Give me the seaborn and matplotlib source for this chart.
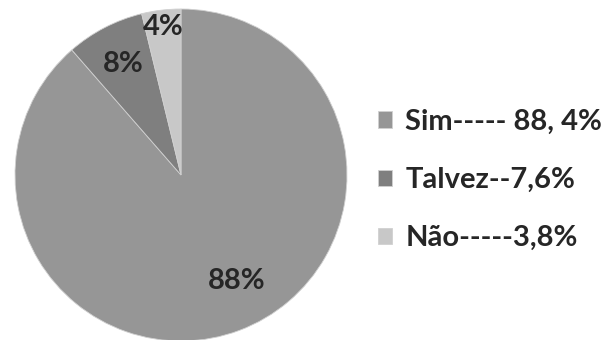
import matplotlib

matplotlib.use("Agg")
import matplotlib.pyplot as plt
import numpy as np
import seaborn as sns

# data
categories = ["Sim", "Talvez", "Não"]
shares = [88.4, 7.6, 3.8]
legend_labels = ["Sim----- 88, 4%", "Talvez--7,6%", "Não-----3,8%"]

GRAYS = ["#969696", "#7f7f7f", "#c8c8c8"]
TEXT = "#262626"

sns.set_theme(style="white")
plt.rcParams["font.family"] = ["Lato", "DejaVu Sans"]

W, H = 609, 340
fig = plt.figure(figsize=(W / 100, H / 100), dpi=100)
fig.patch.set_facecolor("white")

total = sum(shares)

# pie centred at (181, 175) px, radius 166 px
cx, cy, r = 181, 175, 166
ax = fig.add_axes([(cx - r) / W, (H - cy - r) / H, 2 * r / W, 2 * r / H])
wedges, texts, autotexts = ax.pie(
    shares,
    colors=GRAYS,
    startangle=90,
    counterclock=False,
    autopct=lambda p: f"{p * total / 100:.0f}%",
    pctdistance=0.73,
    radius=1,
    wedgeprops=dict(edgecolor="#d0d0d0", linewidth=0.6),
    textprops=dict(fontsize=21, color=TEXT, fontweight="bold"),
)
ax.set_xlim(-1, 1)
ax.set_ylim(-1, 1)
ax.axis("off")

# label placement tweaks (distance from centre, angular shift in degrees)
label_dist = [0.72, 0.755, 0.90]
label_shift = [7, 0, 0]
for w, t, d, s in zip(wedges, autotexts, label_dist, label_shift):
    ang = np.deg2rad((w.theta1 + w.theta2) / 2 + s)
    t.set_position((d * np.cos(ang), d * np.sin(ang)))
    t.set_ha("center")
    t.set_va("center")

leg = fig.legend(
    wedges,
    legend_labels,
    loc="center left",
    bbox_to_anchor=(378 / W, 1 - 180 / H),
    frameon=False,
    prop=dict(size=21, weight="bold"),
    handlelength=0.48,
    handleheight=0.48,
    handletextpad=0.45,
    labelspacing=1.1,
    borderpad=0,
    borderaxespad=0,
)
for txt in leg.get_texts():
    txt.set_color(TEXT)

fig.savefig("out.png", dpi=100)
